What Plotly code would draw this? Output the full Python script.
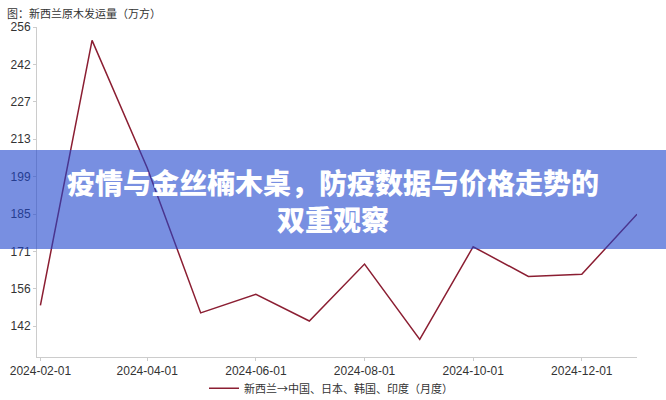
import plotly.graph_objects as go

# ---- data ----
months = ["2024-02-01", "2024-03-01", "2024-04-01", "2024-05-01", "2024-06-01", "2024-07-01",
          "2024-08-01", "2024-09-01", "2024-10-01", "2024-11-01", "2024-12-01", "2025-01-01"]
volume = [150.0, 250.9, 202.3, 147.1, 154.2, 144.0, 165.7, 137.0, 172.3, 161.0, 161.8, 184.7]

series_name = "新西兰→中国、日本、韩国、印度（月度）"
chart_title = "图：新西兰原木发运量（万方）"
banner_line1 = "疫情与金丝楠木桌，防疫数据与价格走势的"
banner_line2 = "双重观察"

y_tickvals = [142, 156.25, 170.5, 184.75, 199, 213.25, 227.5, 241.75, 256]
y_ticktext = ["142", "156", "171", "185", "199", "213", "227", "242", "256"]
x_tickvals = ["2024-02-01", "2024-04-01", "2024-06-01", "2024-08-01", "2024-10-01", "2024-12-01"]
x_ticktext = ["2024-02-01", "2024-04-01", "2024-06-01", "2024-08-01", "2024-10-01", "2024-12-01"]

LINE_COLOR = "#8b1e32"
AXIS_COLOR = "#cccccc"
TEXT_COLOR = "#333333"

fig = go.Figure()
fig.add_trace(go.Scatter(
    x=months, y=volume, mode="lines", name=series_name,
    line=dict(color=LINE_COLOR, width=1.5),
))

fig.update_layout(
    width=666, height=400,
    margin=dict(l=37, r=29, t=27, b=43, pad=0, autoexpand=False),
    paper_bgcolor="white", plot_bgcolor="white",
    font=dict(family="Liberation Sans, Arial, sans-serif", size=12, color=TEXT_COLOR),
    showlegend=True,
    legend=dict(orientation="h", x=0.49, xanchor="center", y=-0.095, yanchor="middle",
                font=dict(family="Noto Sans CJK SC", size=11, color=TEXT_COLOR),
                itemwidth=30, bgcolor="rgba(0,0,0,0)"),
    xaxis=dict(type="date", range=["2024-01-30 02:00", "2025-01-01"],
               tickvals=x_tickvals, ticktext=x_ticktext, automargin=False,
               showgrid=False, zeroline=False, showline=True, linecolor=AXIS_COLOR, linewidth=1,
               ticks="outside", ticklen=3, tickcolor=AXIS_COLOR,
               tickfont=dict(size=12, color=TEXT_COLOR)),
    yaxis=dict(range=[130.3, 256], tickvals=y_tickvals, ticktext=y_ticktext, automargin=False,
               showgrid=False, zeroline=False, showline=True, linecolor=AXIS_COLOR, linewidth=1,
               ticks="outside", ticklen=3, tickcolor=AXIS_COLOR,
               tickfont=dict(size=12, color=TEXT_COLOR)),
)

# chart caption (top-left)
fig.add_annotation(
    text=chart_title, xref="paper", yref="paper",
    x=-0.054, y=1.043, xanchor="left", yanchor="middle", showarrow=False,
    font=dict(family="Noto Sans CJK SC", size=11, color=TEXT_COLOR),
)

# translucent banner across the middle
fig.add_shape(
    type="rect", xref="paper", yref="paper",
    x0=-0.07, x1=1.06, y0=0.327, y1=0.627,
    fillcolor="rgba(30,68,205,0.6)", line=dict(width=0), layer="above",
)
for txt, yy in [(banner_line1, 0.5295), (banner_line2, 0.4175)]:
    fig.add_annotation(
        text=txt, xref="paper", yref="paper",
        x=0.4925, y=yy, xanchor="center", yanchor="middle", showarrow=False,
        font=dict(family="Noto Sans CJK SC", size=28, color="white", weight=900),
    )

fig.write_html("out.html", config={"displayModeBar": False},
               post_script="document.body.style.margin='0';document.body.style.padding='0';")
